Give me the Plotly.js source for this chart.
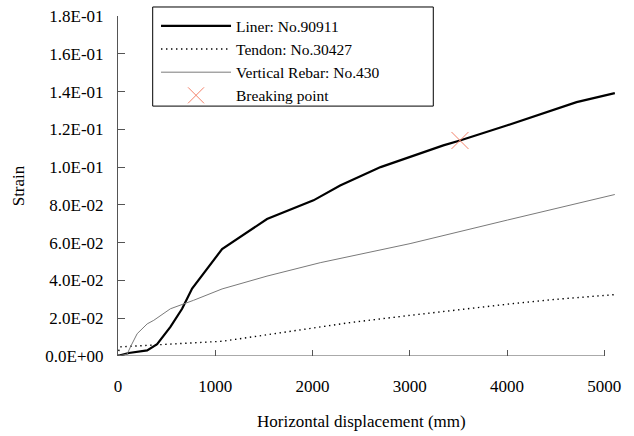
<!DOCTYPE html>
<html>
<head>
<meta charset="utf-8">
<script src="https://cdn.plot.ly/plotly-3.0.1.min.js"></script>
<style>html,body{margin:0;padding:0;background:#fff;}#chart{width:634px;height:436px;}</style>
</head>
<body>
<div id="chart"></div>
<script>
// Liner No.90911
const linerX = [0, 111, 300, 402, 539, 659, 762, 1070, 1532, 2010, 2284, 2700, 3345, 3516, 3996, 4715, 5108];
const linerY = [0, 0.0016, 0.003, 0.0062, 0.0154, 0.025, 0.0357, 0.0566, 0.0725, 0.0824, 0.0903, 0.1000, 0.1115, 0.1141, 0.1220, 0.1344, 0.1392];
// Tendon No.30427
const tendonX = [0, 15, 150, 400, 600, 848, 1070, 1500, 2000, 2387, 3000, 3500, 4000, 4500, 5108];
const tendonY = [0, 0.0048, 0.0052, 0.0060, 0.0065, 0.0074, 0.0078, 0.0110, 0.0150, 0.0177, 0.0215, 0.0245, 0.0274, 0.0300, 0.0325];
// Vertical Rebar No.430
const rebarX = [0, 94, 130, 197, 300, 368, 539, 778, 1070, 1532, 2079, 2387, 3003, 4006, 4500, 5108];
const rebarY = [0, 0.0010, 0.0050, 0.0118, 0.0170, 0.0189, 0.0250, 0.0295, 0.0355, 0.0423, 0.0494, 0.0528, 0.0595, 0.0720, 0.0780, 0.0855];
// Breaking point
const breakX = [3516];
const breakY = [0.1141];

const yTickVals = [0, 0.02, 0.04, 0.06, 0.08, 0.10, 0.12, 0.14, 0.16, 0.18];
const yTickText = ["0.0E+00", "2.0E-02", "4.0E-02", "6.0E-02", "8.0E-02", "1.0E-01", "1.2E-01", "1.4E-01", "1.6E-01", "1.8E-01"];
const xTickVals = [0, 1000, 2000, 3000, 4000, 5000];
const xTickText = ["0", "1000", "2000", "3000", "4000", "5000"];

const serif = "Times New Roman";
const axisColor = "#555555";

const traces = [
  {x: linerX, y: linerY, name: "Liner: No.90911", mode: "lines",
   line: {color: "#000000", width: 2.2}},
  {x: tendonX, y: tendonY, name: "Tendon: No.30427", mode: "lines",
   line: {color: "#000000", width: 1.4, dash: "1.4px,3.6px"}},
  {x: rebarX, y: rebarY, name: "Vertical Rebar: No.430", mode: "lines",
   line: {color: "#7a7a7a", width: 1}},
  {x: breakX, y: breakY, name: "Breaking point", mode: "markers",
   marker: {symbol: "x-thin", size: 17, color: "#F4826A", line: {color: "#F4826A", width: 1}}}
];

const layout = {
  width: 634, height: 436,
  margin: {l: 118, r: 19, t: 16, b: 80, autoexpand: false},
  paper_bgcolor: "#ffffff", plot_bgcolor: "#ffffff",
  font: {family: serif, size: 17, color: "#000000"},
  showlegend: true,
  legend: {
    x: 0.0765, y: 1.0197, xanchor: "left", yanchor: "top",
    borderwidth: 0, bgcolor: "rgba(0,0,0,0)",
    font: {family: serif, size: 15.5, color: "#000000"},
    itemwidth: 70, tracegroupgap: 0
  },
  xaxis: {
    range: [0, 5110], showgrid: false, zeroline: false, showline: false,
    tickmode: "array", tickvals: xTickVals, ticktext: xTickText,
    ticks: "inside", ticklen: 6, tickcolor: axisColor, tickwidth: 1,
    ticklabelstandoff: 18,
    tickfont: {family: serif, size: 17, color: "#000000"}
  },
  yaxis: {
    range: [0, 0.18], showgrid: false, zeroline: false,
    showline: true, linecolor: axisColor, linewidth: 1,
    tickmode: "array", tickvals: yTickVals, ticktext: yTickText,
    ticks: "inside", ticklen: 7, tickcolor: axisColor, tickwidth: 1,
    ticklabelstandoff: 10,
    tickfont: {family: serif, size: 17, color: "#000000"},
    title: {text: "Strain", font: {family: serif, size: 17, color: "#000000"}, standoff: 16}
  },
  shapes: [
    {type: "line", xref: "x", yref: "y", x0: 0, x1: 5000, y0: 0, y1: 0,
     line: {color: axisColor, width: 1}, layer: "above"},
    {type: "rect", xref: "paper", yref: "paper", x0: 0.0698, x1: 0.6344, y0: 0.735, y1: 1.0265,
     line: {color: "#000000", width: 1}, fillcolor: "rgba(0,0,0,0)", layer: "above"}
  ],
  annotations: [
    {text: "Horizontal displacement (mm)", xref: "x", yref: "paper", x: 2500, y: -0.194,
     xanchor: "center", yanchor: "middle", showarrow: false,
     font: {family: serif, size: 17, color: "#000000"}}
  ]
};

Plotly.newPlot("chart", traces, layout, {displayModeBar: false, staticPlot: true});
</script>
</body>
</html>
